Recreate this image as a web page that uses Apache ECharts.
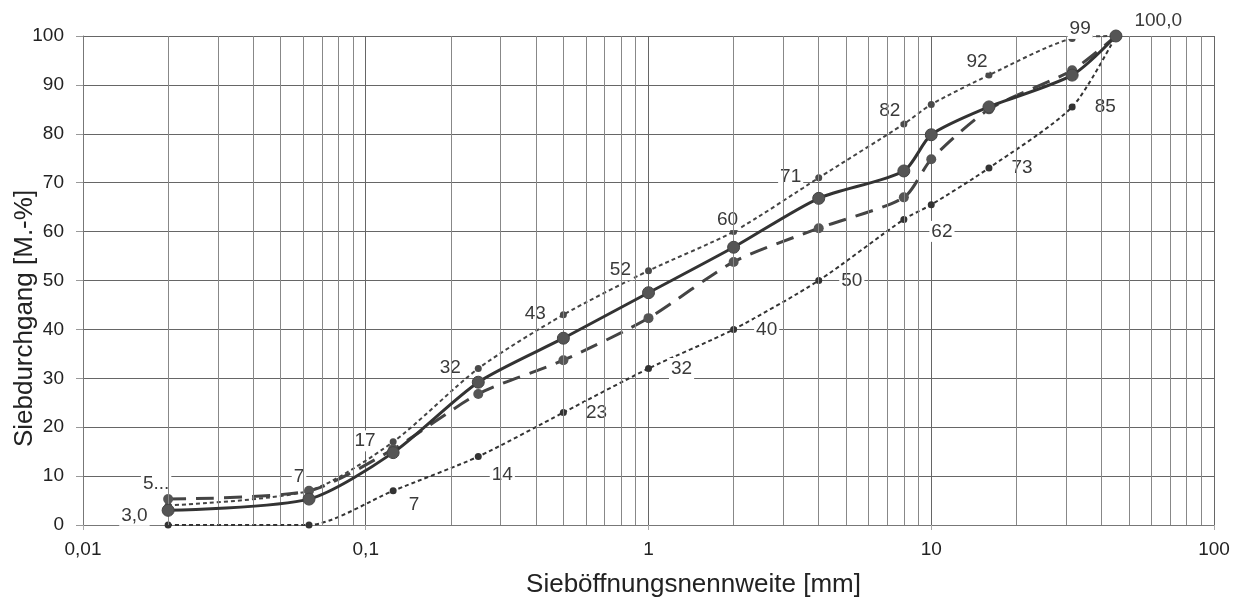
<!DOCTYPE html>
<html>
<head>
<meta charset="utf-8">
<script src="https://cdn.jsdelivr.net/npm/echarts@6/dist/echarts.min.js"></script>
<style>html,body{margin:0;padding:0;background:#fff}#c{width:1248px;height:599px}</style>
</head>
<body>
<div id="c"></div>
<script>
// Sieve sizes [mm]
const sieves = [0.02, 0.063, 0.125, 0.25, 0.5, 1, 2, 4, 8, 10, 16, 31.5, 45];
// Series values [M.-%]
const upperLimit = [4, 7, 17, 32, 43, 52, 60, 71, 82, 86, 92, 99.5, 100];
const lowerLimit = [0, 0, 7, 14, 23, 32, 40, 50, 62.5, 65.5, 73, 85.5, 100];
const solidCurve = [3, 5.3, 14.8, 29.2, 38.2, 47.5, 56.8, 66.8, 72.4, 79.8, 85.5, 92, 100];
const dashedCurve = [5.3, 7, 15.5, 26.8, 33.7, 42.3, 53.8, 60.7, 67, 74.8, 85, 93, 100];
// Point labels (empty = no label)
const upperLabels = ['', '7', '17', '32', '43', '52', '60', '71', '82', '', '92', '99', ''];
const lowerLabels = ['', '', '7', '14', '23', '32', '40', '50', '62', '', '73', '85', ''];
const solidLabels = ['3,0', '', '', '', '', '', '', '', '', '', '', '', '100,0'];
const dashedLabels = ['5...', '', '', '', '', '', '', '', '', '', '', '', ''];
// Axis ticks
const xTicks = [0.01, 0.1, 1, 10, 100];
const minorMultipliers = [2, 3, 4, 5, 6, 7, 8, 9];

// ---- label placement (style only) ----
const upperPlace = {default: ['left', [0, -1]], 1: ['top', [-10, 12]], 6: ['top', [-6, 14]], 8: ['top', [-14, 13]], 10: ['top', [-12, 13]], 11: ['top', [8, 16]]};
const lowerPlace = {default: ['right', [0, 0]], 2: ['right', [-7, 14]], 3: ['right', [-9, 18]], 8: ['right', [5, 12]]};
const solidPlace = {default: ['left', [0, 5]], 12: ['right', [-2, -15]]};
const dashedPlace = {default: ['top', [-12, 2]]};

const FONT = 'Liberation Sans, Arial, sans-serif';
const minorLines = [];
xTicks.slice(0, -1).forEach(d => minorMultipliers.forEach(m => minorLines.push({xAxis: +(d * m).toPrecision(6)})));

function build(values, labels, place, dist) {
  return values.map((v, i) => {
    const p = place[i] || place.default;
    return {
      value: [sieves[i], v],
      label: labels[i] ? {
        show: true, formatter: labels[i], position: p[0], offset: p[1], distance: dist,
        color: '#3a3a3a', fontSize: 19, fontFamily: FONT,
        backgroundColor: '#fff', padding: [1, 2]
      } : {show: false}
    };
  });
}

const chart = echarts.init(document.getElementById('c'));
chart.setOption({
  animation: false,
  backgroundColor: '#fff',
  grid: {left: 83, right: 34, top: 36, bottom: 74, containLabel: false, outerBoundsMode: 'none'},
  xAxis: {
    type: 'log', logBase: 10, min: 0.01, max: 100,
    name: 'Sieböffnungsnennweite [mm]', nameLocation: 'middle', nameGap: 47, nameMoveOverlap: false,
    nameTextStyle: {fontSize: 26, color: '#222', fontFamily: FONT, padding: [0, 0, 0, 90]},
    axisLine: {show: true, lineStyle: {color: '#777', width: 1}},
    axisTick: {show: true, length: 5, lineStyle: {color: '#aaa'}},
    axisLabel: {
      fontSize: 19, color: '#222', margin: 15, fontFamily: FONT,
      formatter: v => String(+Number(v).toPrecision(6)).replace('.', ',')
    },
    splitLine: {show: true, lineStyle: {color: '#666', width: 1}}
  },
  yAxis: {
    type: 'value', min: 0, max: 100, interval: 10,
    name: 'Siebdurchgang [M.-%]', nameLocation: 'middle', nameGap: 45, nameMoveOverlap: false,
    nameTextStyle: {fontSize: 26, color: '#222', fontFamily: FONT, padding: [0, 76, 0, 0]},
    axisLine: {show: true, lineStyle: {color: '#777'}},
    axisTick: {show: true, length: 7, lineStyle: {color: '#999'}},
    axisLabel: {fontSize: 19, color: '#222', margin: 19, fontFamily: FONT},
    splitLine: {show: true, lineStyle: {color: '#666', width: 1}}
  },
  series: [
    {
      name: 'grid', type: 'line', data: [], silent: true,
      markLine: {
        silent: true, symbol: 'none', label: {show: false}, animation: false,
        lineStyle: {color: '#888', width: 1, type: 'solid'},
        data: minorLines
      }
    },
    {
      name: 'Obere Grenze', type: 'line', smooth: 0.25,
      data: build(upperLimit, upperLabels, upperPlace, 12),
      symbol: 'circle', symbolSize: 7,
      lineStyle: {color: '#444', width: 2, type: [4, 3]},
      itemStyle: {color: '#4a4a4a'}, z: 3
    },
    {
      name: 'Untere Grenze', type: 'line', smooth: 0.25,
      data: build(lowerLimit, lowerLabels, lowerPlace, 17),
      symbol: 'circle', symbolSize: 7,
      lineStyle: {color: '#333', width: 2, type: [4, 3]},
      itemStyle: {color: '#333'}, z: 3
    },
    {
      name: 'Gestrichelt', type: 'line', smooth: 0.25,
      data: build(dashedCurve, dashedLabels, dashedPlace, 2),
      symbol: 'circle', symbolSize: 10,
      lineStyle: {color: '#444', width: 3, type: [18, 10]},
      itemStyle: {color: '#555'}, z: 4
    },
    {
      name: 'Sieblinie', type: 'line', smooth: 0.25,
      data: build(solidCurve, solidLabels, solidPlace, 12),
      symbol: 'circle', symbolSize: 12,
      lineStyle: {color: '#333', width: 3},
      itemStyle: {color: '#555', borderColor: '#444', borderWidth: 1}, z: 5
    }
  ]
});
</script>
</body>
</html>
